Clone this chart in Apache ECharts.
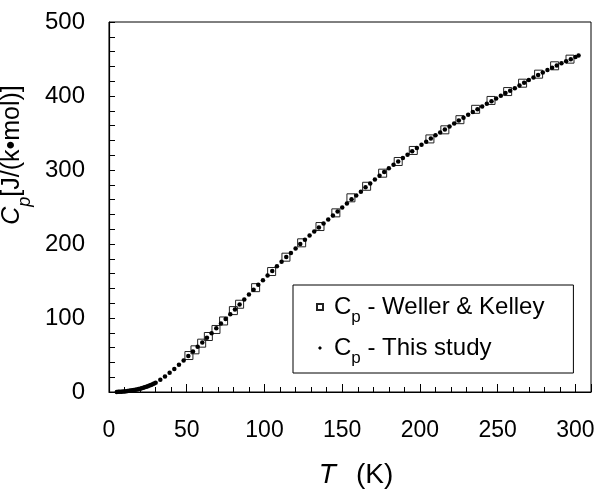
<!DOCTYPE html>
<html>
<head>
<meta charset="utf-8">
<script src="https://cdn.jsdelivr.net/npm/echarts@6/dist/echarts.min.js"></script>
<style>html,body{margin:0;padding:0;background:#fff;}#c{width:599px;height:492px;}</style>
</head>
<body>
<div id="c"></div>
<script>
// This study: temperature (K) and heat capacity (J/(K·mol))
const studyT = [5,6,7,8,9,10,11,12,13,14,15,16,17,18,19,20,21,22,23,24,25,26,27,28,29,30,
  33,36,39,42,45,48,51,54,57,60,63,66,69,72,75,78,81,84,87,90,93,96,99,
  102,105,108,111,114,117,120,123,126,129,132,135,138,141,144,147,150,153,156,159,162,165,168,171,174,177,180,
  183,186,189,192,195,198,201,204,207,210,213,216,219,222,225,228,231,234,237,240,243,246,249,252,255,258,
  261,264,267,270,273,276,279,282,285,288,291,294,297,300,302];
const studyCp = [0.1,0.2,0.3,0.4,0.6,0.8,1.0,1.3,1.6,1.9,2.3,2.7,3.1,3.5,4.0,4.5,5.1,5.7,6.4,7.1,7.9,8.7,9.5,10.4,11.4,12.4,
  16.5,21.0,26.0,31.0,36.8,42.6,48.6,54.8,61.0,67.0,73.2,79.5,86.0,92.4,98.6,105.0,111.6,118.4,125.0,131.6,138.2,144.8,151.0,
  157.5,163.6,169.8,176.0,182.3,188.0,194.0,200.0,205.6,211.4,217.0,222.4,227.8,233.2,238.6,244.0,249.3,254.8,260.4,265.5,270.6,276.6,281.7,287.0,292.2,297.3,302.2,
  307.0,311.6,316.2,320.7,325.2,329.6,334.0,338.3,342.6,346.8,350.8,354.8,358.8,362.8,366.8,370.7,374.6,378.4,382.2,385.8,389.4,393.0,396.5,400.5,404.0,407.2,
  410.6,414.2,418.0,421.5,425.0,428.5,431.8,435.0,438.2,441.2,444.2,447.0,449.8,452.6,454.6];
// Weller & Kelley
const wkT = [51.4,55.3,59.6,63.9,68.8,73.7,80.0,84.0,94.3,104.6,113.8,123.9,135.7,145.9,155.6,165.7,176.0,186.0,195.7,206.4,216.0,225.7,235.8,245.7,256.4,266.0,276.3,286.6,296.5];
const wkCp = [49.3,57.0,66.0,75.0,84.5,96.0,110.0,118.6,141.0,162.8,182.2,201.6,223.6,242.1,262.4,278.0,295.7,311.5,326.4,342.0,354.3,368.0,382.0,394.0,406.0,417.3,429.5,440.8,449.8];
const xTicks = [0,50,100,150,200,250,300];
const yTicks = [0,100,200,300,400,500];
const nameWK = 'Cp - Weller & Kelley';
const nameStudy = 'Cp - This study';

const FONT = '"Liberation Sans", Arial, Helvetica, sans-serif';
const chart = echarts.init(document.getElementById('c'));
const fmt = n => '{c|C}{p|p}{t|' + n.slice(2) + '}';
// legend icons: small centred marks inside a fixed 10x10 box
const iconSquare = 'path://M0,0L0.001,0ZM10,10L10.001,10ZM2,2L8,2L8,8L2,8Z';
const iconDot = 'path://M0,0L0.001,0ZM10,10L10.001,10ZM5,3L7,5L5,7L3,5Z';

chart.setOption({
  animation: false,
  grid: {left: 109, right: 8, top: 22, bottom: 100, containLabel: false, outerBoundsMode: 'none',
         show: true, borderColor: '#000', borderWidth: 1},
  xAxis: {
    type: 'value', min: xTicks[0], max: 310, interval: 50,
    axisLine: {show: true, onZero: false, lineStyle: {color: '#000', width: 1.2}},
    axisTick: {show: true, inside: true, length: 8, lineStyle: {color: '#000', width: 1}},
    minorTick: {show: true, splitNumber: 5, length: 5, lineStyle: {color: '#000', width: 1}},
    splitLine: {show: false},
    axisLabel: {showMaxLabel: false, margin: 27, color: '#000', fontFamily: FONT, fontSize: 23},
    name: '{t|T}(K)', nameLocation: 'middle', nameGap: 69,
    nameTextStyle: {fontFamily: FONT, fontSize: 28, color: '#000', padding: [0, 0, 0, 12],
      rich: {t: {fontFamily: FONT, fontSize: 28, fontStyle: 'italic', color: '#000', padding: [0, 20, 0, 0]}}}
  },
  yAxis: {
    type: 'value', min: yTicks[0], max: yTicks[yTicks.length - 1], interval: 100,
    axisLine: {show: true, onZero: false, lineStyle: {color: '#000', width: 1.2}},
    axisTick: {show: true, inside: true, length: 6, lineStyle: {color: '#000', width: 1}},
    minorTick: {show: true, splitNumber: 5, length: 6, lineStyle: {color: '#000', width: 1}},
    splitLine: {show: false},
    axisLabel: {margin: 24, color: '#000', fontFamily: FONT, fontSize: 24},
    name: '{c|C}{p|p}{t|[J/(k•mol)]}', nameLocation: 'middle', nameGap: 50,
    nameTextStyle: {fontFamily: FONT, fontSize: 25, color: '#000', padding: [0, 0, 0, 104],
      rich: {
        c: {fontFamily: FONT, fontSize: 25, fontStyle: 'italic', color: '#000', lineHeight: 28},
        p: {fontFamily: FONT, fontSize: 18, fontStyle: 'italic', color: '#000', lineHeight: 28, verticalAlign: 'bottom', padding: [0, 0, -8, 0]},
        t: {fontFamily: FONT, fontSize: 25, color: '#000', lineHeight: 28}
      }}
  },
  legend: {
    data: [{name: nameWK, icon: iconSquare}, {name: nameStudy, icon: iconDot}],
    orient: 'vertical', left: 293, top: 285, padding: [10, 29, 6, 21], itemGap: 10,
    itemWidth: 10, itemHeight: 10, selectedMode: false,
    borderColor: '#000', borderWidth: 1, backgroundColor: '#fff',
    formatter: fmt,
    textStyle: {
      fontFamily: FONT, fontSize: 24, color: '#000',
      rich: {
        c: {fontFamily: FONT, fontSize: 24, color: '#000', lineHeight: 26, padding: [0, 0, 0, 4]},
        p: {fontFamily: FONT, fontSize: 17, color: '#000', lineHeight: 26, verticalAlign: 'bottom', padding: [0, 0, -6, 0]},
        t: {fontFamily: FONT, fontSize: 24, color: '#000', lineHeight: 26}
      }
    }
  },
  series: [
    {name: nameWK, type: 'scatter', symbol: 'rect', symbolSize: 8,
     itemStyle: {color: 'rgba(255,255,255,0)', borderColor: '#222', borderWidth: 1, opacity: 1},
     data: wkT.map((t, i) => [t, wkCp[i]])},
    {name: nameStudy, type: 'scatter', symbol: 'circle', symbolSize: 4.5,
     itemStyle: {color: '#000', opacity: 1},
     data: studyT.map((t, i) => [t, studyCp[i]])}
  ]
});
</script>
</body>
</html>
